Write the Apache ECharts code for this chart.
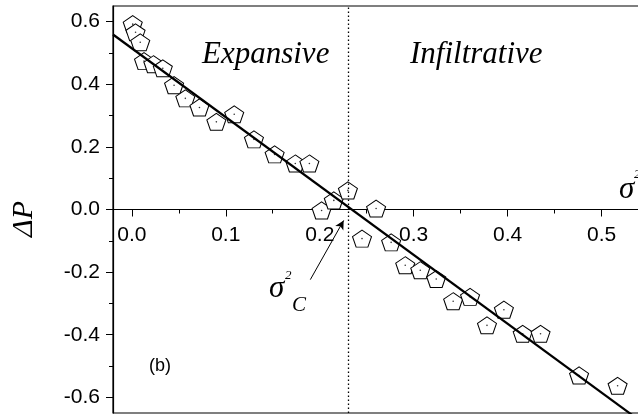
<!DOCTYPE html>
<html>
<head>
<meta charset="utf-8">
<script src="https://cdn.jsdelivr.net/npm/echarts@6/dist/echarts.min.js"></script>
<style>
html,body{margin:0;padding:0;background:#fff;}
#chart{width:638px;height:415px;}
</style>
</head>
<body>
<div id="chart"></div>
<script>
// ---- data ----
const xTicks = [0.0, 0.1, 0.2, 0.3, 0.4, 0.5];
const xMinorTicks = [0.05, 0.15, 0.25, 0.35, 0.45, 0.55];
const yTicks = [-0.6, -0.4, -0.2, 0.0, 0.2, 0.4, 0.6];
const yMinorTicks = [-0.5, -0.3, -0.1, 0.1, 0.3, 0.5];

const sigma2 = [0.001, 0.004, 0.009, 0.013, 0.023, 0.033, 0.045, 0.057, 0.072, 0.090,
                0.109, 0.130, 0.152, 0.174, 0.189, 0.202, 0.215, 0.230, 0.245, 0.260,
                0.276, 0.291, 0.307, 0.324, 0.342, 0.360, 0.378, 0.396, 0.416, 0.435,
                0.476, 0.517];
const deltaP = [0.592, 0.566, 0.534, 0.474, 0.464, 0.451, 0.397, 0.355, 0.326, 0.280,
                0.304, 0.224, 0.176, 0.147, 0.147, -0.003, 0.029, 0.061, -0.093, 0.003,
                -0.105, -0.178, -0.194, -0.222, -0.293, -0.279, -0.370, -0.320, -0.397, -0.397,
                -0.530, -0.563];

const fitX = [-0.02, 0.56];
const fitY = [0.559, -0.717];
const criticalSigma2 = 0.231;
const arrowFrom = [0.190, -0.224];
const arrowTo = [0.2255, -0.035];

const xMin = -0.02, xMax = 0.56, yMin = -0.65, yMax = 0.65;

// ---- chart ----
const points = sigma2.map((x, i) => [x, deltaP[i]]);
const fitLine = fitX.map((x, i) => [x, fitY[i]]);

const pentagon = 'path://M0,-1L0.951,-0.309L0.588,0.809L-0.588,0.809L-0.951,-0.309Z';
const sans = 'Liberation Sans, Arial, sans-serif';
const serif = 'Liberation Serif, Times New Roman, serif';

const W = 638, H = 415;
const gridTop = 6, gridBottom = 2;
const plotH = H - gridTop - gridBottom;
// distance from bottom edge of plot to the y = 0 line (x axis sits on zero)
const zeroOffset = -plotH * (0 - yMin) / (yMax - yMin);

const chart = echarts.init(document.getElementById('chart'), null, {renderer: 'canvas'});

const fmt = v => v.toFixed(1);

chart.setOption({
  animation: false,
  backgroundColor: '#fff',
  grid: {
    left: 113, top: gridTop, right: -20, bottom: gridBottom,
    outerBoundsMode: 'none', containLabel: false,
    show: true, borderColor: '#000', borderWidth: 1.2, backgroundColor: 'transparent'
  },
  xAxis: [
    {
      type: 'value', min: xMin, max: xMax, position: 'bottom', offset: zeroOffset,
      axisLine: {show: true, onZero: false, lineStyle: {color: '#000', width: 1.2}},
      axisTick: {show: true, inside: false, length: 7, customValues: xTicks, lineStyle: {color: '#000', width: 1}},
      axisLabel: {show: true, customValues: xTicks, formatter: fmt, margin: 15,
                  color: '#000', fontFamily: sans, fontSize: 21},
      splitLine: {show: false}
    },
    {
      type: 'value', min: xMin, max: xMax, position: 'bottom', offset: zeroOffset,
      axisLine: {show: false, onZero: false},
      axisTick: {show: true, inside: false, length: 4, customValues: xMinorTicks, lineStyle: {color: '#000', width: 1}},
      axisLabel: {show: false},
      splitLine: {show: false}
    }
  ],
  yAxis: [
    {
      type: 'value', min: yMin, max: yMax, position: 'left',
      axisLine: {show: true, onZero: false, lineStyle: {color: '#000', width: 1.2}},
      axisTick: {show: true, inside: false, length: 7, customValues: yTicks, lineStyle: {color: '#000', width: 1}},
      axisLabel: {show: true, customValues: yTicks, formatter: fmt, margin: 13,
                  color: '#000', fontFamily: sans, fontSize: 21},
      splitLine: {show: false}
    },
    {
      type: 'value', min: yMin, max: yMax, position: 'left',
      axisLine: {show: false, onZero: false},
      axisTick: {show: true, inside: false, length: 4, customValues: yMinorTicks, lineStyle: {color: '#000', width: 1}},
      axisLabel: {show: false},
      splitLine: {show: false}
    }
  ],
  series: [
    {
      type: 'scatter', name: 'data', data: points,
      symbol: pentagon, symbolSize: [19, 17],
      itemStyle: {color: '#fff', borderColor: '#000', borderWidth: 1, opacity: 1},
      z: 2,
      markLine: {
        silent: true, symbol: 'none', animation: false,
        label: {show: false},
        lineStyle: {color: '#000', width: 1.3, type: [1.5, 2.5]},
        data: [{xAxis: criticalSigma2}]
      }
    },
    {
      type: 'scatter', name: 'centers', data: points,
      symbol: 'circle', symbolSize: 1.6,
      itemStyle: {color: '#000'}, z: 3, silent: true
    },
    {
      type: 'line', name: 'fit', data: fitLine, clip: true,
      symbol: 'none', lineStyle: {color: '#000', width: 2.2}, z: 4,
      markLine: {
        silent: true, symbol: ['none', 'arrow'], symbolSize: [7, 9], animation: false,
        label: {show: false},
        lineStyle: {color: '#000', width: 1, type: 'solid'},
        data: [[{coord: arrowFrom}, {coord: arrowTo}]]
      }
    }
  ],
  graphic: [
    {type: 'text', x: 202, y: 55, style: {text: 'Expansive', font: 'italic 31px ' + serif, fill: '#000', align: 'left', verticalAlign: 'middle'}},
    {type: 'text', x: 410, y: 55, style: {text: 'Infiltrative', font: 'italic 31px ' + serif, fill: '#000', align: 'left', verticalAlign: 'middle'}},
    {type: 'text', x: 619, y: 190, style: {text: 'σ', font: 'italic 31px ' + serif, fill: '#000', align: 'left', verticalAlign: 'middle'}},
    {type: 'text', x: 634, y: 175, style: {text: '2', font: 'italic 13px ' + serif, fill: '#000', align: 'left', verticalAlign: 'middle'}},
    {type: 'text', x: 269, y: 289, style: {text: 'σ', font: 'italic 31px ' + serif, fill: '#000', align: 'left', verticalAlign: 'middle'}},
    {type: 'text', x: 285, y: 276, style: {text: '2', font: 'italic 13px ' + serif, fill: '#000', align: 'left', verticalAlign: 'middle'}},
    {type: 'text', x: 292, y: 305, style: {text: 'C', font: 'italic 21px ' + serif, fill: '#000', align: 'left', verticalAlign: 'middle'}},
    {type: 'text', x: 24, y: 219, rotation: Math.PI / 2, style: {text: 'ΔP', font: 'italic 30px ' + serif, fill: '#000', align: 'center', verticalAlign: 'middle'}},
    {type: 'text', x: 160, y: 366, style: {text: '(b)', font: '18px ' + sans, fill: '#000', align: 'center', verticalAlign: 'middle'}}
  ]
});
</script>
</body>
</html>
